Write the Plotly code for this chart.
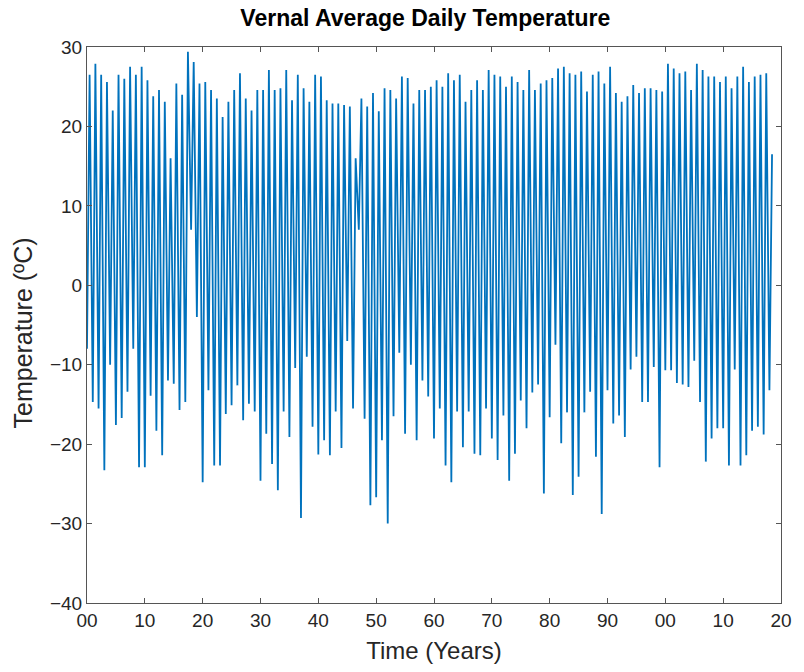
import plotly.graph_objects as go

# yearly winter minima (start of each year, offset from 1900)
winter_min = [
    -8, -14.7, -15.5, -23.3, -10, -17.6, -16.7, -13.4, -8, -22.9,
    -22.9, -13.9, -18.3, -21.4, -12, -12.4, -15.7, -14.7, 7, -4,
    -24.8, -13.2, -22.7, -22.7, -16.2, -15.1, -12.6, -17, -14.9, -15.9,
    -24.6, -18.7, -22.5, -25.8, -15.9, -19.1, -10.4, -29.3, -9, -17.8,
    -21.3, -19.5, -21.4, -15.9, -20.5, -7, -15.5, 7, -16.8, -27.7,
    -26.7, -19.5, -30, -16.5, -8.5, -18.7, -10, -19.5, -12, -14,
    -19.3, -15.5, -22.7, -24.8, -15.9, -20.4, -15.9, -21.2, -21.4, -15.5,
    -19.3, -22, -16.4, -24.6, -21.2, -14.5, -18, -13.5, -12.5, -26.2,
    -16.6, -7.5, -19.9, -16, -26.4, -24.1, -16, -13.4, -21.6, -28.8,
    -13.2, -17.4, -16.4, -19.1, -10.6, -9, -14.7, -14.7, -10.3, -22.9,
    -10.7, -10.7, -12.3, -12.5, -12.8, -9.5, -14.7, -22.2, -19.3, -18,
    -18, -22.7, -10.6, -22.7, -21.4, -18.3, -17.8, -18.8, -13.2,
]

# yearly summer maxima (mid-year)
summer_max = [
    26.5, 27.9, 26.5, 25.6, 22, 26.5, 26, 27.5, 26.5, 27.5,
    25.8, 23.8, 24.6, 23.1, 16, 25.4, 24, 29.4, 28.1, 25.4,
    25.6, 24.6, 23.5, 21.2, 23.1, 24.6, 26.7, 23.5, 22, 24.6,
    24.6, 27.1, 24.6, 24.8, 27.1, 23.3, 26.5, 24.8, 23.1, 26.5,
    26.3, 23.3, 22.9, 22.9, 22.7, 22.5, 16, 23.5, 22.5, 24.2,
    21.9, 24.8, 24.6, 23.5, 26.3, 26.1, 22.9, 24.6, 24.6, 25,
    25.8, 25, 26.7, 25.8, 26.5, 23.1, 24.6, 25.8, 24.6, 27.1,
    26.5, 26.3, 25, 26.3, 25.6, 24.6, 27.1, 24.6, 25.4, 25.8,
    26.1, 27.3, 27.5, 26.7, 26.5, 26.9, 24.4, 26.5, 26.9, 25.4,
    27.5, 24.2, 23.1, 23.8, 25.2, 24.2, 24.8, 24.8, 24.6, 24.4,
    27.9, 27.3, 26.7, 26.9, 24.6, 27.9, 27.1, 26.3, 26.3, 25.6,
    26.3, 24.8, 26.3, 27.5, 25.6, 26.3, 26.5, 26.7, 16.5,
]

start_year = 1900
x_ticks = list(range(1900, 2021, 10))
x_ticktext = ["00", "10", "20", "30", "40", "50", "60", "70", "80", "90", "00", "10", "20"]
y_ticks = [-40, -30, -20, -10, 0, 10, 20, 30]

xs, ys = [], []
for i, (lo, hi) in enumerate(zip(winter_min, summer_max)):
    xs.append(start_year + i)
    ys.append(lo)
    xs.append(start_year + i + 0.45)
    ys.append(hi)

fig = go.Figure()
fig.add_trace(go.Scatter(x=xs, y=ys, mode="lines",
                         line=dict(color="#0072BD", width=1.8),
                         showlegend=False, hoverinfo="skip"))

font_family = "Liberation Sans, Arial, Helvetica, sans-serif"
axis_common = dict(
    showline=True, linecolor="#555555", linewidth=1, mirror="ticks",
    ticks="inside", ticklen=5, tickcolor="#555555", showgrid=False, zeroline=False,
    tickfont=dict(family=font_family, size=19, color="#262626"),
)
fig.update_layout(
    width=804, height=672,
    margin=dict(l=87, r=12, t=47, b=69),
    paper_bgcolor="white", plot_bgcolor="white",
    title=dict(text="<b>Vernal Average Daily Temperature</b>", x=0.529, xanchor="center",
               y=0.973, yanchor="middle",
               font=dict(family=font_family, size=23, color="#000000")),
    xaxis=dict(range=[1900, 2020], tickvals=x_ticks, ticktext=x_ticktext,
               title=dict(text="Time (Years)", standoff=12,
                          font=dict(family=font_family, size=24, color="#262626")),
               **axis_common),
    yaxis=dict(range=[-40, 30], tickvals=y_ticks, **axis_common),
    annotations=[dict(text="Temperature (ºC)", xref="paper", yref="paper",
                      x=-0.092, y=0.485, xanchor="center", yanchor="middle",
                      textangle=-90, showarrow=False,
                      font=dict(family=font_family, size=25, color="#262626"))],
)
fig.write_html("out.html")
